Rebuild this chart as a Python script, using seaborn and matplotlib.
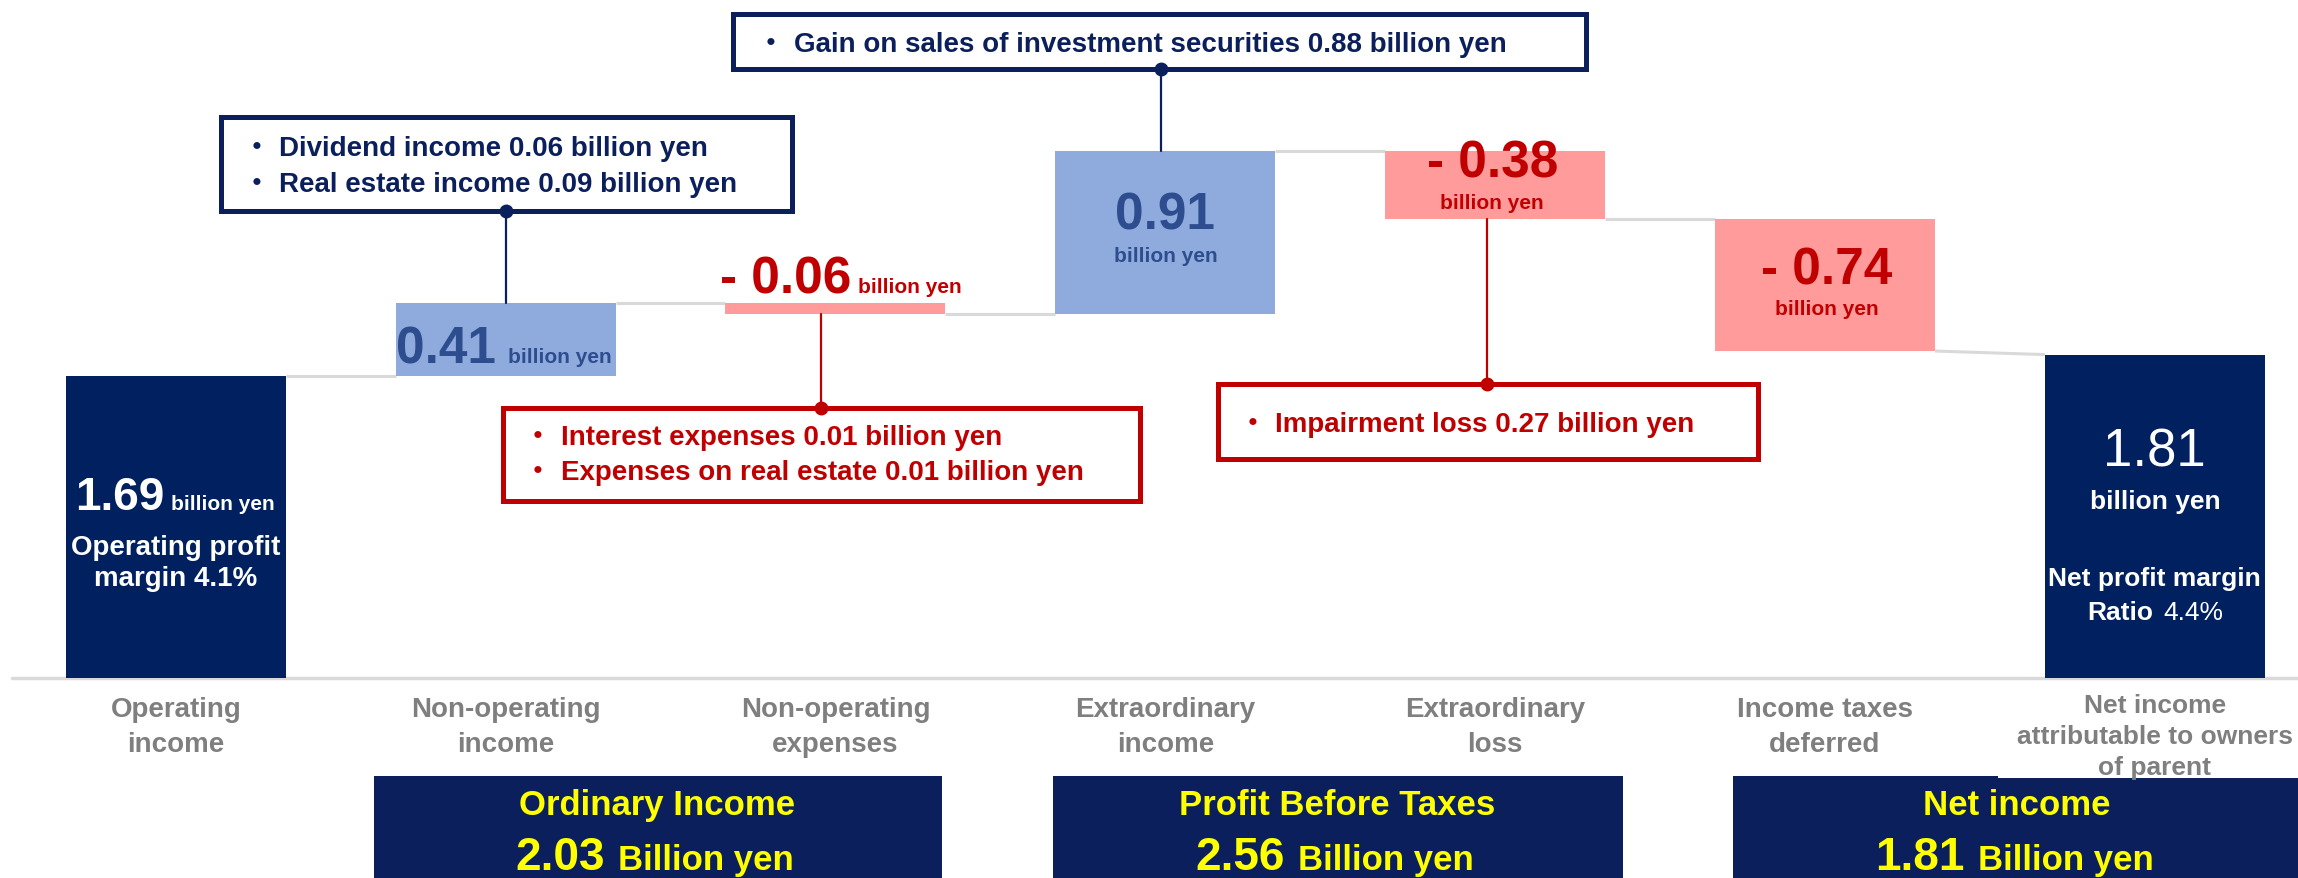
import numpy as np
import pandas as pd
import matplotlib
matplotlib.use("Agg")
import matplotlib.pyplot as plt
from matplotlib.patches import Rectangle
import seaborn as sns

# --- data ---
categories = ["Operating\nincome", "Non-operating\nincome", "Non-operating\nexpenses",
              "Extraordinary\nincome", "Extraordinary\nloss", "Income taxes\ndeferred",
              "Net income\nattributable to owners\nof parent"]
changes = [1.69, 0.41, -0.06, 0.91, -0.38, -0.74, 1.81]
is_total = [True, False, False, False, False, False, True]

subtotal_names = ["Ordinary Income", "Profit Before Taxes", "Net income"]
subtotal_values = [2.03, 2.56, 1.81]

op_margin = 4.1
net_margin = 4.4

detail_income = ["Dividend income 0.06 billion yen", "Real estate income 0.09 billion yen"]
detail_gain = ["Gain on sales of investment securities 0.88 billion yen"]
detail_expenses = ["Interest expenses 0.01 billion yen", "Expenses on real estate 0.01 billion yen"]
detail_loss = ["Impairment loss 0.27 billion yen"]

# --- colours ---
NAVY = "#002060"
BOX_NAVY = "#0A1F5C"
LIGHT_BLUE = "#8FAADC"
PINK = "#FF9B9B"
RED = "#C00000"
BLUE_TXT = "#2D4D8E"
GREY = "#7F7F7F"
LINE_GREY = "#D9D9D9"
YELLOW = "#FFFF00"

# running totals for the waterfall
starts, ends = [], []
level = 0.0
for v, tot in zip(changes, is_total):
    if tot:
        starts.append(0.0)
        level = v
    else:
        starts.append(level)
        level = level + v
    ends.append(level)
starts = np.array(starts)
ends = np.array(ends)

df = pd.DataFrame({
    "category": categories,
    "bottom": np.minimum(starts, ends),
    "height": np.abs(ends - starts),
    "color": [NAVY if t else (LIGHT_BLUE if v > 0 else PINK) for v, t in zip(changes, is_total)],
})

sns.set_theme(style="white")
plt.rcParams["font.family"] = ["Liberation Sans", "Noto Sans CJK JP", "DejaVu Sans"]

fig = plt.figure(figsize=(22.98, 8.79), dpi=100)
ax = fig.add_axes([0, 0, 1, 1])

W = 0.667
sns.barplot(data=df, x="category", y="height", bottom=df["bottom"].to_numpy(),
            order=categories, width=W, saturation=1, errorbar=None,
            color=NAVY, linewidth=0, ax=ax, zorder=2)
for patch, c in zip(ax.patches, df["color"]):
    patch.set_facecolor(c)

ax.set_xlim(-0.533, 6.434)
ax.set_ylim(-1.119, 3.800)
ax.axis("off")

# connectors between bars
for i in range(len(changes) - 1):
    y2 = ends[i + 1] if is_total[i + 1] else starts[i + 1]
    ax.plot([i + W / 2, i + 1 - W / 2], [ends[i], y2], color=LINE_GREY, lw=2.2, zorder=1,
            solid_capstyle="butt")
# base line
ax.plot([-0.498, 6.434], [0, 0], color=LINE_GREY, lw=2.5, zorder=1)


def put(x, y, s, size, color, weight="bold", ha="center"):
    ax.text(x, y, s, fontsize=size, color=color, fontweight=weight, ha=ha, va="baseline", zorder=5)


def fmt(v):
    return f"{v:.2f}" if v >= 0 else f"- {abs(v):.2f}"


# value labels
put(0 - 0.036, 0.946, fmt(changes[0]), 33, "white", ha="right")
put(0 - 0.015, 0.946, "billion yen", 15, "white", ha="left")
put(0, 0.694, "Operating profit", 20, "white")
put(0, 0.519, f"margin {op_margin}%", 20, "white")

put(1 - 0.029, 1.766, fmt(changes[1]), 37, BLUE_TXT, ha="right")
put(1 + 0.008, 1.766, "billion yen", 15, BLUE_TXT, ha="left")

put(2 + 0.048, 2.160, fmt(changes[2]), 37, RED, ha="right")
put(2 + 0.068, 2.160, "billion yen", 15, RED, ha="left")

put(3, 2.513, fmt(changes[3]), 37, BLUE_TXT)
put(3, 2.332, "billion yen", 15, BLUE_TXT)

put(3.991, 2.808, fmt(changes[4]), 37, RED)
put(3.991, 2.628, "billion yen", 15, RED)

put(5.004, 2.209, fmt(changes[5]), 37, RED)
put(5.004, 2.037, "billion yen", 15, RED)

put(6, 1.188, f"{changes[6]:.2f}", 38, "white", weight="normal")
put(6, 0.954, "billion yen", 19, "white")
put(6, 0.519, "Net profit margin", 19, "white")
put(5.996, 0.331, "Ratio", 19, "white", ha="right")
put(6.027, 0.331, f"{net_margin}%", 19, "white", weight="normal", ha="left")

# category labels
for i, lab in enumerate(categories):
    lines = lab.split("\n")
    if len(lines) == 2:
        for ln, y in zip(lines, [-0.215, -0.410]):
            put(i, y, ln, 20, GREY)
    else:
        for ln, y in zip(lines, [-0.190, -0.363, -0.535]):
            put(i, y, ln, 19, GREY)

# subtotal boxes
box_top = -0.547
box_spans = [(0.6, 2.324), (2.658, 4.387), (4.72, 6.5)]
title_x = [1.46, 3.52, 5.582]
for (x0, x1), cx, name, val in zip(box_spans, title_x, subtotal_names, subtotal_values):
    ax.add_patch(Rectangle((x0, -1.3), x1 - x0, box_top + 1.3, facecolor=BOX_NAVY,
                           edgecolor="none", zorder=3))
    put(cx, -0.760, name, 25, YELLOW)
    put(cx - 0.159, -1.069, f"{val:.2f}", 33, YELLOW, ha="right")
    put(cx - 0.118, -1.069, "Billion yen", 25, YELLOW, ha="left")
# white backing of the last category label
ax.add_patch(Rectangle((5.524, -0.562), 1.0, 0.53, facecolor="white", edgecolor="none", zorder=4))


# detail call-out boxes
def callout(x0, x1, y0, y1, lines, baselines, tx, color, stem_x, stem_to, dot_y):
    ax.add_patch(Rectangle((x0, y0), x1 - x0, y1 - y0, facecolor="white", edgecolor=color,
                           lw=3.6, zorder=4))
    for ln, y in zip(lines, baselines):
        ax.text(tx - 0.0105, y, "・", fontsize=20, color=color, fontweight="bold", ha="left",
                va="baseline", family="Noto Sans CJK JP", zorder=5)
        put(tx + 0.102, y, ln, 20, color, ha="left")
    ax.plot([stem_x, stem_x], [dot_y, stem_to], color=color, lw=1.6, zorder=3)
    ax.plot([stem_x], [dot_y], "o", color=color, ms=9, zorder=5)


callout(0.138, 1.867, 2.614, 3.139, detail_income, [2.925, 2.728], 0.212, BOX_NAVY,
        1.0, ends[1], 2.614)
callout(1.689, 4.276, 3.408, 3.716, detail_gain, [3.509], 1.772, BOX_NAVY,
        2.987, ends[3], 3.408)
callout(0.991, 2.924, 0.991, 1.513, detail_expenses, [1.309, 1.112], 1.065, RED,
        1.956, ends[2], 1.513)
callout(3.160, 4.796, 1.225, 1.643, detail_loss, [1.382], 3.232, RED,
        3.976, ends[4], 1.643)

fig.savefig("out.png", dpi=100)
